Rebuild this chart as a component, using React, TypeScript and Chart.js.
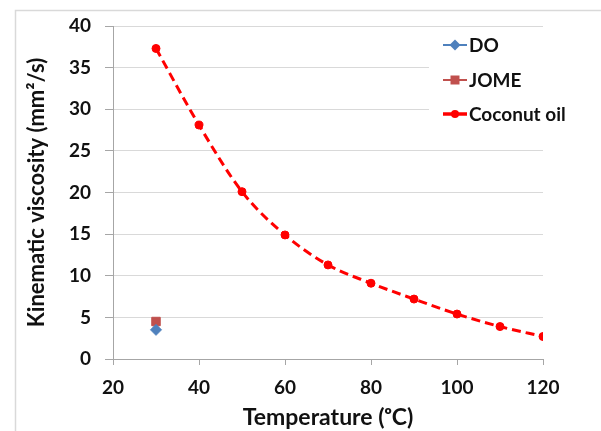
import { useEffect, useRef } from "react";
import { Chart, registerables } from "chart.js";

Chart.register(...registerables);

// ---- data ----
const coconutTemps = [30, 40, 50, 60, 70, 80, 90, 100, 110, 120];
const coconutViscosity = [37.3, 28.1, 20.1, 14.9, 11.3, 9.1, 7.2, 5.4, 3.9, 2.7];
const doTemps = [30];
const doViscosity = [3.5];
const jomeTemps = [30];
const jomeViscosity = [4.5];
const seriesNames = ["DO", "JOME", "Coconut oil"];
const xMin = 20;
const xMax = 120;
const xStep = 20;
const yMin = 0;
const yMax = 40;
const yStep = 5;

const FONT = "Lato, 'Open Sans', sans-serif";
const BLUE = "#4F81BD";
const BROWNRED = "#C0504D";
const RED = "#FF0000";

const toXY = (xs: number[], ys: number[]) => xs.map((x, i) => ({ x, y: ys[i] }));

const framePlugin = {
  id: "frame",
  beforeDraw(chart: any) {
    const ctx = chart.ctx;
    ctx.save();
    ctx.fillStyle = "#ffffff";
    ctx.fillRect(0, 0, chart.width, chart.height);
    ctx.strokeStyle = "#d9d9d9";
    ctx.lineWidth = 1.5;
    ctx.strokeRect(15.5, 10.5, chart.width + 10, chart.height + 10);
    ctx.restore();
  },
};

const legendPlugin = {
  id: "customLegend",
  afterDraw(chart: any) {
    const ctx = chart.ctx;
    const area = chart.chartArea;
    const boxLeft = area.right - 114;
    const boxTop = area.top + 5;
    ctx.save();
    ctx.fillStyle = "#ffffff";
    ctx.fillRect(boxLeft, boxTop, chart.width - boxLeft, 98);
    const lineX0 = area.right - 100;
    const lineX1 = lineX0 + 24;
    const rowY = [area.top + 19, area.top + 54, area.top + 88];
    chart.data.datasets.forEach((ds: any, i: number) => {
      const y = rowY[i];
      ctx.strokeStyle = ds.borderColor;
      ctx.lineWidth = ds.legendLineWidth;
      ctx.setLineDash(ds.legendDash || []);
      ctx.beginPath();
      ctx.moveTo(lineX0, y);
      ctx.lineTo(lineX1, y);
      ctx.stroke();
      ctx.setLineDash([]);
      const cx = (lineX0 + lineX1) / 2;
      ctx.fillStyle = ds.pointBackgroundColor;
      ctx.beginPath();
      if (ds.pointStyle === "rectRot") {
        const r = 5.5;
        ctx.moveTo(cx, y - r);
        ctx.lineTo(cx + r, y);
        ctx.lineTo(cx, y + r);
        ctx.lineTo(cx - r, y);
        ctx.closePath();
      } else if (ds.pointStyle === "rect") {
        ctx.rect(cx - 4.5, y - 4.5, 9, 9);
      } else {
        ctx.arc(cx, y, 4, 0, Math.PI * 2);
      }
      ctx.fill();
      ctx.fillStyle = "#111111";
      ctx.font = `bold 19px ${FONT}`;
      ctx.textBaseline = "middle";
      ctx.textAlign = "left";
      ctx.fillText(ds.label, lineX1 + 2, y + 1);
    });
    ctx.restore();
  },
};

export default function App() {
  const canvasRef = useRef<HTMLCanvasElement | null>(null);

  useEffect(() => {
    const canvas = canvasRef.current;
    if (!canvas) return;
    const chart = new Chart(canvas, {
      type: "scatter",
      data: {
        datasets: [
          {
            label: seriesNames[0],
            data: toXY(doTemps, doViscosity),
            borderColor: BLUE,
            backgroundColor: BLUE,
            pointBackgroundColor: BLUE,
            pointBorderColor: BLUE,
            pointStyle: "rectRot",
            pointRadius: 5.5,
            pointBorderWidth: 1,
            showLine: false,
            legendLineWidth: 2,
          } as any,
          {
            label: seriesNames[1],
            data: toXY(jomeTemps, jomeViscosity),
            borderColor: BROWNRED,
            backgroundColor: BROWNRED,
            pointBackgroundColor: BROWNRED,
            pointBorderColor: BROWNRED,
            pointStyle: "rect",
            pointRadius: 6,
            pointBorderWidth: 1,
            showLine: false,
            legendLineWidth: 2,
          } as any,
          {
            label: seriesNames[2],
            data: toXY(coconutTemps, coconutViscosity),
            borderColor: RED,
            backgroundColor: RED,
            pointBackgroundColor: RED,
            pointBorderColor: RED,
            pointStyle: "circle",
            pointRadius: 4,
            pointBorderWidth: 1,
            showLine: true,
            borderWidth: 3,
            borderDash: [9, 5],
            tension: 0.4,
            cubicInterpolationMode: "monotone",
            legendLineWidth: 3.5,
            legendDash: [],
          } as any,
        ],
      },
      options: {
        responsive: false,
        animation: false,
        layout: { padding: { top: 26, right: 58, left: 0, bottom: 0 } },
        plugins: {
          legend: { display: false },
          tooltip: { enabled: false },
        },
        scales: {
          x: {
            type: "linear",
            min: xMin,
            max: xMax,
            afterFit: (scale: any) => {
              scale.height = 72;
            },
            ticks: {
              stepSize: xStep,
              color: "#111111",
              font: { family: FONT, size: 19, weight: "bold" },
              padding: 11,
            },
            grid: {
              drawOnChartArea: false,
              drawTicks: true,
              tickLength: 6,
              tickColor: "#a6a6a6",
            },
            border: { color: "#a6a6a6", width: 1 },
            title: {
              display: true,
              text: "Temperature (ᵒC)",
              color: "#111111",
              font: { family: FONT, size: 23, weight: "bold" },
              padding: { top: 0, bottom: 0 },
            },
          },
          y: {
            type: "linear",
            min: yMin,
            max: yMax,
            afterFit: (scale: any) => {
              scale.width = 113;
            },
            ticks: {
              stepSize: yStep,
              color: "#111111",
              font: { family: FONT, size: 19, weight: "bold" },
              padding: 14,
            },
            grid: {
              color: "#d9d9d9",
              lineWidth: 1,
              tickLength: 8,
              tickColor: "#a6a6a6",
            },
            border: { color: "#a6a6a6", width: 1 },
            title: {
              display: true,
              text: "Kinematic viscosity (mm²/s)",
              color: "#111111",
              font: { family: FONT, size: 22, weight: "bold" },
              padding: { top: 24, bottom: 0 },
            },
          },
        },
      },
      plugins: [framePlugin, legendPlugin],
    });
    return () => chart.destroy();
  }, []);

  return (
    <div style={{ position: "absolute", left: 0, top: 0, width: 601, height: 431 }}>
      <canvas ref={canvasRef} width={601} height={431} />
    </div>
  );
}
